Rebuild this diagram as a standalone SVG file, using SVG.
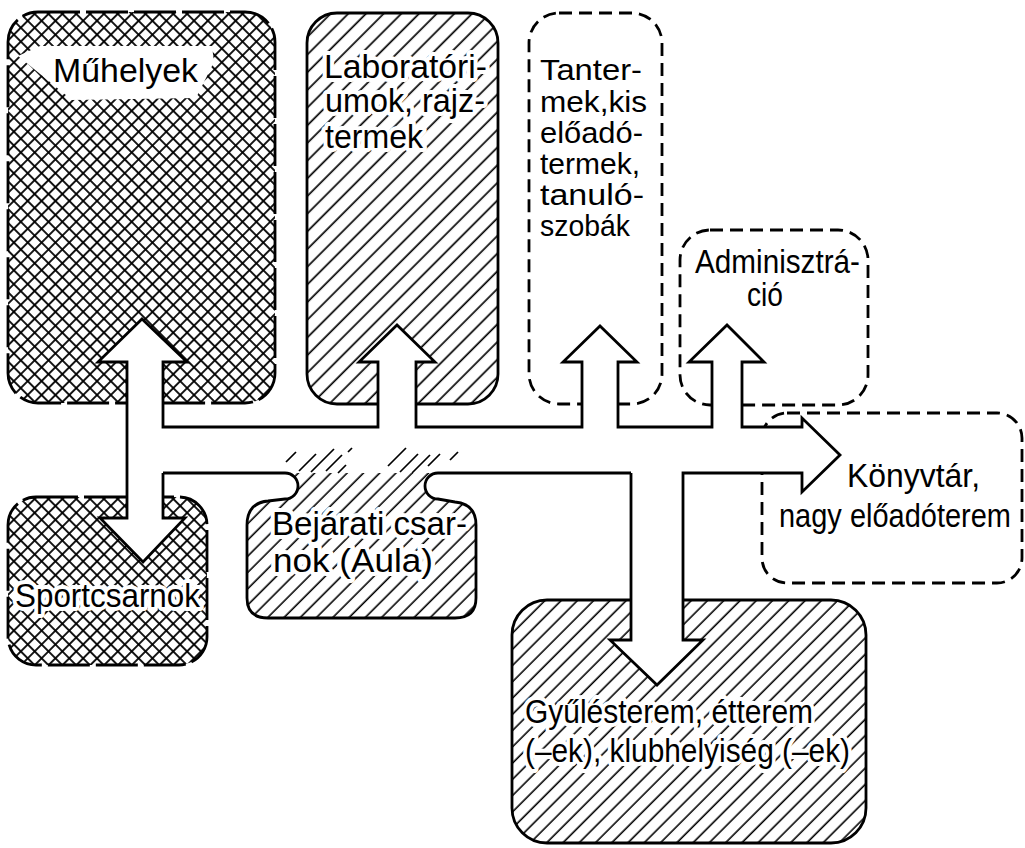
<svg xmlns="http://www.w3.org/2000/svg" width="1025" height="848" viewBox="0 0 1025 848">
<defs>
<pattern id="hatchL" width="12.5" height="12.5" patternUnits="userSpaceOnUse" patternTransform="rotate(45)"><line x1="6" y1="-1" x2="6" y2="13.5" stroke="#000" stroke-width="1.7"/></pattern>
<pattern id="hatchS" width="11.5" height="11.5" patternUnits="userSpaceOnUse" patternTransform="rotate(45)"><line x1="5" y1="-1" x2="5" y2="12.5" stroke="#000" stroke-width="1.6"/></pattern>
<pattern id="cross" width="9.8" height="9.8" patternUnits="userSpaceOnUse" patternTransform="rotate(45)"><line x1="4.9" y1="-1" x2="4.9" y2="10.8" stroke="#000" stroke-width="1.8"/><line x1="-1" y1="4.9" x2="10.8" y2="4.9" stroke="#000" stroke-width="1.8"/></pattern>
<style>
.box{stroke:#000;stroke-width:2.8;}
.ldash{stroke-dasharray:42 6;}
.sdash{stroke-dasharray:13 7;fill:none;}
.line{fill:none;stroke:#000;stroke-width:2.8;stroke-linejoin:miter;}
.fade{fill:none;stroke:#000;stroke-width:1.7;}
text{font-family:"Liberation Sans",Arial,sans-serif;font-size:33px;fill:#000;}
.tt{font-size:29px;}
.halo{paint-order:stroke;stroke:#fff;stroke-width:8;stroke-linejoin:round;}
</style>
</defs>
<rect width="1025" height="848" fill="#fff"/>

<g id="muhelyek">
<rect class="box ldash" x="8" y="12" width="267" height="391" rx="30" fill="url(#cross)"/>
<polygon points="18,56 40,46 212,46 214,62 196,98 72,100" fill="#fff"/>
<text x="53" y="82" font-size="35" textLength="145" lengthAdjust="spacingAndGlyphs">Műhelyek</text>
</g>

<g id="laboratoriumok">
<rect class="box" x="307" y="13" width="191" height="391" rx="30" fill="url(#hatchL)"/>
<text class="halo" x="324" y="78" font-size="32" textLength="163" lengthAdjust="spacingAndGlyphs">Laboratóri-</text>
<text class="halo" x="325" y="112" font-size="32" textLength="160" lengthAdjust="spacingAndGlyphs">umok, rajz-</text>
<text class="halo" x="325" y="148" font-size="32" textLength="98" lengthAdjust="spacingAndGlyphs">termek</text>
</g>

<g id="tantermek">
<rect class="box sdash" x="529" y="13" width="133" height="391" rx="30"/>
<text class="tt" x="540" y="80" textLength="102" lengthAdjust="spacingAndGlyphs">Tanter-</text>
<text class="tt" x="540" y="112" textLength="107" lengthAdjust="spacingAndGlyphs">mek,kis</text>
<text class="tt" x="540" y="143" textLength="103" lengthAdjust="spacingAndGlyphs">előadó-</text>
<text class="tt" x="540" y="174" textLength="100" lengthAdjust="spacingAndGlyphs">termek,</text>
<text class="tt" x="540" y="205" textLength="104" lengthAdjust="spacingAndGlyphs">tanuló-</text>
<text class="tt" x="540" y="236" textLength="90" lengthAdjust="spacingAndGlyphs">szobák</text>
</g>

<g id="adminisztracio">
<rect class="box sdash" x="680" y="230" width="188" height="175" rx="30"/>
<text x="695" y="273" font-size="28" textLength="165" lengthAdjust="spacingAndGlyphs">Adminisztrá-</text>
<text x="747" y="306" font-size="28" textLength="36" lengthAdjust="spacingAndGlyphs">ció</text>
</g>

<g id="konyvtar">
<rect class="box sdash" x="762" y="413" width="260" height="170" rx="25"/>
</g>

<g id="sportcsarnok">
<rect class="box ldash" x="8" y="497" width="199" height="168" rx="28" fill="url(#cross)"/>
</g>

<g id="gyulesterem">
<rect class="box" x="512" y="600" width="354" height="243" rx="35" fill="url(#hatchS)"/>
</g>

<g id="connectors">
<path fill="#fff" stroke="none" d="M163,473 L163,518 L185,518 L143,562 L100,518 L127,518 L127,362 L98,362 L142,319 L187,362 L163,362 L163,427 L378,427 L378,362 L359,362 L397,325 L435,362 L416,362 L416,427 L582,427 L582,362 L563,362 L600,326 L637,362 L618,362 L618,427 L712,427 L712,362 L689,362 L727,325 L764,362 L742,362 L742,427 L802,427 L802,418 L840,455 L802,492 L802,473 L683,473 L683,640 L703,640 L657,685 L610,640 L631,640 L631,473 Z"/>
<path class="line" d="M163,473 L163,518 L185,518 L143,562 L100,518 L127,518 L127,362 L98,362 L142,319 L187,362 L163,362 L163,427 L378,427 L378,362 L359,362 L397,325 L435,362 L416,362 L416,427 L582,427 L582,362 L563,362 L600,326 L637,362 L618,362 L618,427 L712,427 L712,362 L689,362 L727,325 L764,362 L742,362 L742,427 L802,427 L802,418 L840,455 L802,492 L802,473 L683,473 L683,640 L703,640 L657,685 L610,640 L631,640 L631,473"/>
</g>

<g id="bejarati-csarnok">
<path fill="url(#hatchS)" stroke="none" d="M285,473 A13,13 0 0 1 285,499 L268,501 Q247,503 247,525 L247,598 Q247,618 268,618 L455,618 Q476,618 476,598 L476,525 Q476,504 455,502 L438,499 A13,13 0 0 1 438,473 Z"/>
<path class="line" d="M163,473 L285,473 A13,13 0 0 1 285,499 L268,501 Q247,503 247,525 L247,598 Q247,618 268,618 L455,618 Q476,618 476,598 L476,525 Q476,504 455,502 L438,499 A13,13 0 0 1 438,473 L631,473"/>
<g class="fade">
<line x1="286" y1="462" x2="296" y2="452"/>
<line x1="299" y1="471" x2="316" y2="454"/>
<line x1="311" y1="472" x2="334" y2="449"/>
<line x1="326" y1="471" x2="342" y2="455"/>
<line x1="338" y1="473" x2="346" y2="465"/>
<line x1="348" y1="452" x2="352" y2="448"/>
<line x1="388" y1="466" x2="406" y2="448"/>
<line x1="400" y1="472" x2="418" y2="454"/>
<line x1="412" y1="473" x2="430" y2="455"/>
<line x1="428" y1="466" x2="440" y2="454"/>
<line x1="450" y1="460" x2="458" y2="452"/>
</g>
<text class="halo" x="272" y="535" font-size="34" textLength="195" lengthAdjust="spacingAndGlyphs">Bejárati csar-</text>
<text class="halo" x="273" y="572" font-size="34" textLength="160" lengthAdjust="spacingAndGlyphs">nok (Aula)</text>
</g>

<g id="labels">
<text x="847" y="487" font-size="31" textLength="133" lengthAdjust="spacingAndGlyphs">Könyvtár,</text>
<text x="779" y="527" font-size="29" textLength="232" lengthAdjust="spacingAndGlyphs">nagy előadóterem</text>
<text class="halo" x="15" y="607" font-size="35" textLength="185" lengthAdjust="spacingAndGlyphs">Sportcsarnok</text>
<text class="halo" x="525" y="723" font-size="35" textLength="288" lengthAdjust="spacingAndGlyphs">Gyűlésterem, étterem</text>
<text class="halo" x="525" y="762" font-size="35" textLength="325" lengthAdjust="spacingAndGlyphs">(–ek), klubhelyiség (–ek)</text>
</g>
</svg>
